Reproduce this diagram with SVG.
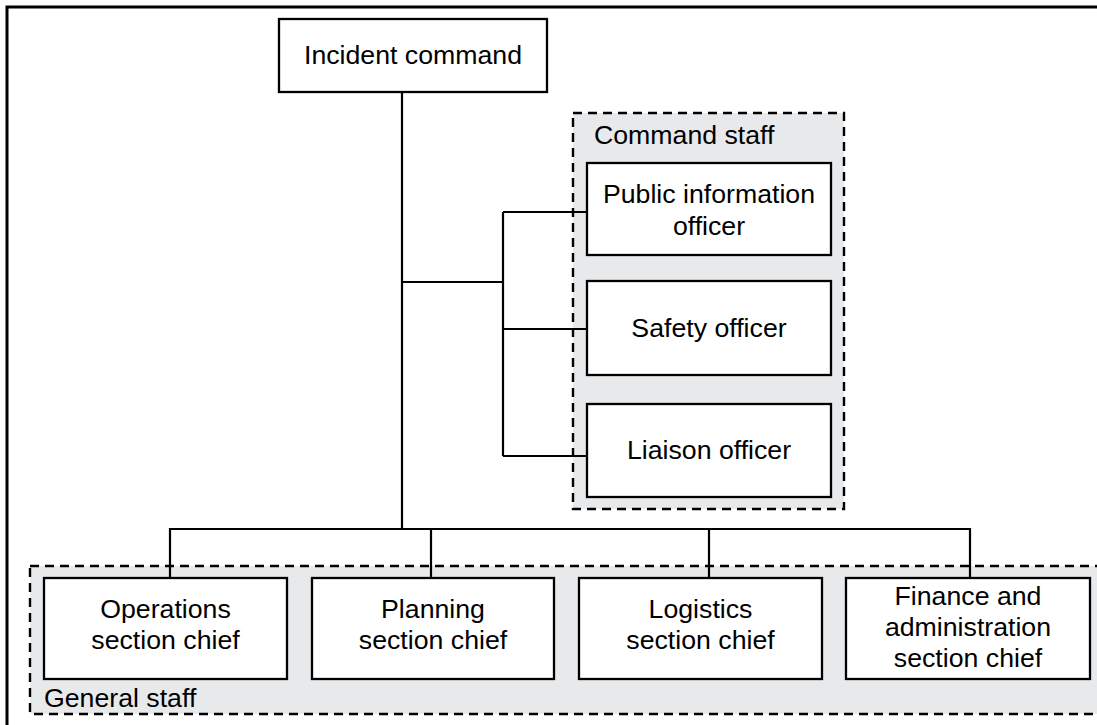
<svg xmlns="http://www.w3.org/2000/svg" width="1097" height="725" viewBox="0 0 1097 725">
<style>
  .frame { fill: none; stroke: #000; stroke-width: 3; }
  .group { fill: #e8e9eb; stroke: #000; stroke-width: 2.4; stroke-dasharray: 9 6; }
  .box { fill: #fff; stroke: #000; stroke-width: 2.3; }
  .conn { fill: none; stroke: #000; stroke-width: 2.2; }
  text { font-family: "Liberation Sans", Arial, sans-serif; font-size: 26.7px; fill: #000; }
  .c { text-anchor: middle; }
</style>
<rect width="1097" height="725" fill="#fff"/>
<path class="frame" d="M7,730 V7 H1100"/>
<g id="command-staff">
  <rect class="group" x="573" y="113" width="271" height="396"/>
  <text x="594" y="144">Command staff</text>
</g>
<g id="general-staff">
  <rect class="group" x="30" y="566" width="1080" height="148"/>
  <text x="44" y="707">General staff</text>
</g>
<g id="connectors">
  <path class="conn" d="M402,92 V529"/>
  <path class="conn" d="M402,282 H503"/>
  <path class="conn" d="M503,212 V456"/>
  <path class="conn" d="M503,212 H587 M503,329 H587 M503,456 H587"/>
  <path class="conn" d="M170,578 V529 H970 V578"/>
  <path class="conn" d="M431,529 V578 M709,529 V578"/>
</g>
<g id="incident-command">
  <rect class="box" x="279" y="19" width="268" height="73"/>
  <text class="c" x="413" y="64">Incident command</text>
</g>
<g id="public-information-officer">
  <rect class="box" x="587" y="163" width="244" height="92"/>
  <text class="c" x="709" y="203">Public information</text>
  <text class="c" x="709" y="235">officer</text>
</g>
<g id="safety-officer">
  <rect class="box" x="587" y="281" width="244" height="94"/>
  <text class="c" x="709" y="337">Safety officer</text>
</g>
<g id="liaison-officer">
  <rect class="box" x="587" y="404" width="244" height="93"/>
  <text class="c" x="709" y="459">Liaison officer</text>
</g>
<g id="operations-section-chief">
  <rect class="box" x="44" y="578" width="243" height="101"/>
  <text class="c" x="165.5" y="618">Operations</text>
  <text class="c" x="165.5" y="649">section chief</text>
</g>
<g id="planning-section-chief">
  <rect class="box" x="312" y="578" width="242" height="101"/>
  <text class="c" x="433" y="618">Planning</text>
  <text class="c" x="433" y="649">section chief</text>
</g>
<g id="logistics-section-chief">
  <rect class="box" x="579" y="578" width="243" height="101"/>
  <text class="c" x="700.5" y="618">Logistics</text>
  <text class="c" x="700.5" y="649">section chief</text>
</g>
<g id="finance-and-administration-section-chief">
  <rect class="box" x="846" y="578" width="244" height="101"/>
  <text class="c" x="968" y="605">Finance and</text>
  <text class="c" x="968" y="636">administration</text>
  <text class="c" x="968" y="667">section chief</text>
</g>
</svg>
